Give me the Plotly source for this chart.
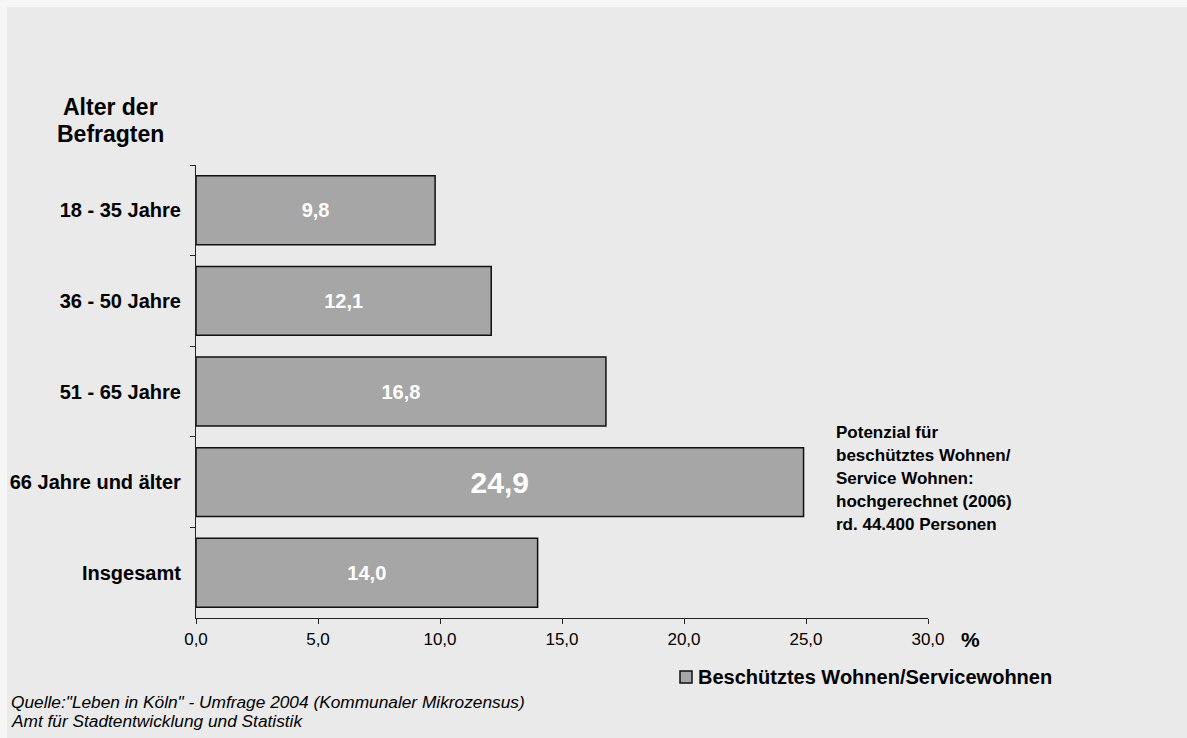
import plotly.graph_objects as go

categories = ["18 - 35 Jahre", "36 - 50 Jahre", "51 - 65 Jahre", "66 Jahre und älter", "Insgesamt"]
values = [9.8, 12.1, 16.8, 24.9, 14.0]
label_sizes = [20, 20, 20, 30, 20]
x_ticks = [0, 5, 10, 15, 20, 25, 30]
series_name = "Beschütztes Wohnen/Servicewohnen"
axis_title_lines = ["Alter der", "Befragten"]
note_lines = ["Potenzial für", "beschütztes Wohnen/", "Service Wohnen:", "hochgerechnet (2006)", "rd. 44.400 Personen"]
source_lines = ['Quelle:"Leben in Köln" - Umfrage 2004 (Kommunaler Mikrozensus)', "Amt für Stadtentwicklung und Statistik"]

FONT = "Liberation Sans, Arial, sans-serif"
BG = "#EAEAEA"
BORDER_BG = "#F6F6F6"
BAR_FILL = "#A6A6A6"
EDGE = "#111111"

fig = go.Figure()
fig.add_trace(go.Bar(
    x=values, y=categories, orientation="h", name=series_name,
    marker=dict(color=BAR_FILL, line=dict(color=EDGE, width=1.5)),
    texttemplate="%{x:.1f}", textposition="inside", insidetextanchor="middle",
    textangle=0,
    textfont=dict(family=FONT, color="white", size=label_sizes, weight="bold"),
    showlegend=False,
))

L, R, T, B = 196, 259, 165, 120
W, H = 1187, 738
pw, ph = W - L - R, H - T - B

def px_x(p):
    return (p - L) / pw

def px_y(p):
    return (H - B - p) / ph

annotations = []
for i, line in enumerate(axis_title_lines):
    annotations.append(dict(text="<b>" + line + "</b>", x=px_x(110), y=px_y(107 + 27 * i),
                            xref="paper", yref="paper", showarrow=False, xanchor="center", yanchor="middle",
                            font=dict(family=FONT, size=23, color="black")))
annotations.append(dict(text="<b>%</b>", x=px_x(970), y=px_y(639), xref="paper", yref="paper",
                        showarrow=False, font=dict(family=FONT, size=21, color="black"),
                        xanchor="center", yanchor="middle"))
for i, line in enumerate(note_lines):
    annotations.append(dict(text="<b>" + line + "</b>", x=px_x(834), y=px_y(432 + 23 * i),
                            xref="paper", yref="paper", showarrow=False, xanchor="left", yanchor="middle",
                            font=dict(family=FONT, size=17, color="black")))
for i, line in enumerate(source_lines):
    annotations.append(dict(text="<i>" + line + "</i>", x=px_x(9), y=px_y(702 + 19 * i),
                            xref="paper", yref="paper", showarrow=False, xanchor="left", yanchor="middle",
                            font=dict(family=FONT, size=17.3, color="black")))
# legend entry (drawn manually to match the original spacing)
annotations.append(dict(text="<b>" + series_name + "</b>", x=px_x(696), y=px_y(677),
                        xref="paper", yref="paper", showarrow=False, xanchor="left", yanchor="middle",
                        font=dict(family=FONT, size=20, color="black")))

shapes = [
    # light frame strips at top and left edge of the original image
    dict(type="rect", xref="paper", yref="paper", layer="below",
         x0=px_x(0), x1=px_x(W), y0=px_y(7), y1=px_y(0),
         fillcolor=BORDER_BG, line=dict(width=0)),
    dict(type="rect", xref="paper", yref="paper", layer="below",
         x0=px_x(0), x1=px_x(7), y0=px_y(H), y1=px_y(0),
         fillcolor=BORDER_BG, line=dict(width=0)),
    dict(type="rect", xref="paper", yref="paper",
         x0=px_x(680), x1=px_x(692), y0=px_y(671), y1=px_y(683),
         fillcolor=BAR_FILL, line=dict(color=EDGE, width=1.5)),
]

fig.update_layout(
    width=W, height=H,
    margin=dict(l=L, r=R, t=T, b=B, pad=0, autoexpand=False),
    paper_bgcolor=BG, plot_bgcolor=BG,
    separators=",.",
    bargap=0.24,
    font=dict(family=FONT, color="black"),
    xaxis=dict(range=[0, 30], tickvals=x_ticks, tickformat=".1f", showgrid=False, zeroline=False,
               automargin=False,
               showline=True, linecolor="#222222", linewidth=1.2, ticks="outside", ticklen=5,
               tickcolor="#222222", tickfont=dict(family=FONT, size=17, color="black")),
    yaxis=dict(autorange="reversed", showgrid=False, zeroline=False, showline=True, automargin=False,
               linecolor="#222222", linewidth=1.2, ticks="outside", ticklen=5, tickcolor="#222222",
               tickson="boundaries", ticklabelstandoff=10,
               tickfont=dict(family=FONT, size=20, color="black", weight="bold")),
    showlegend=False,
    annotations=annotations,
    shapes=shapes,
)

fig.write_html("out.html")
